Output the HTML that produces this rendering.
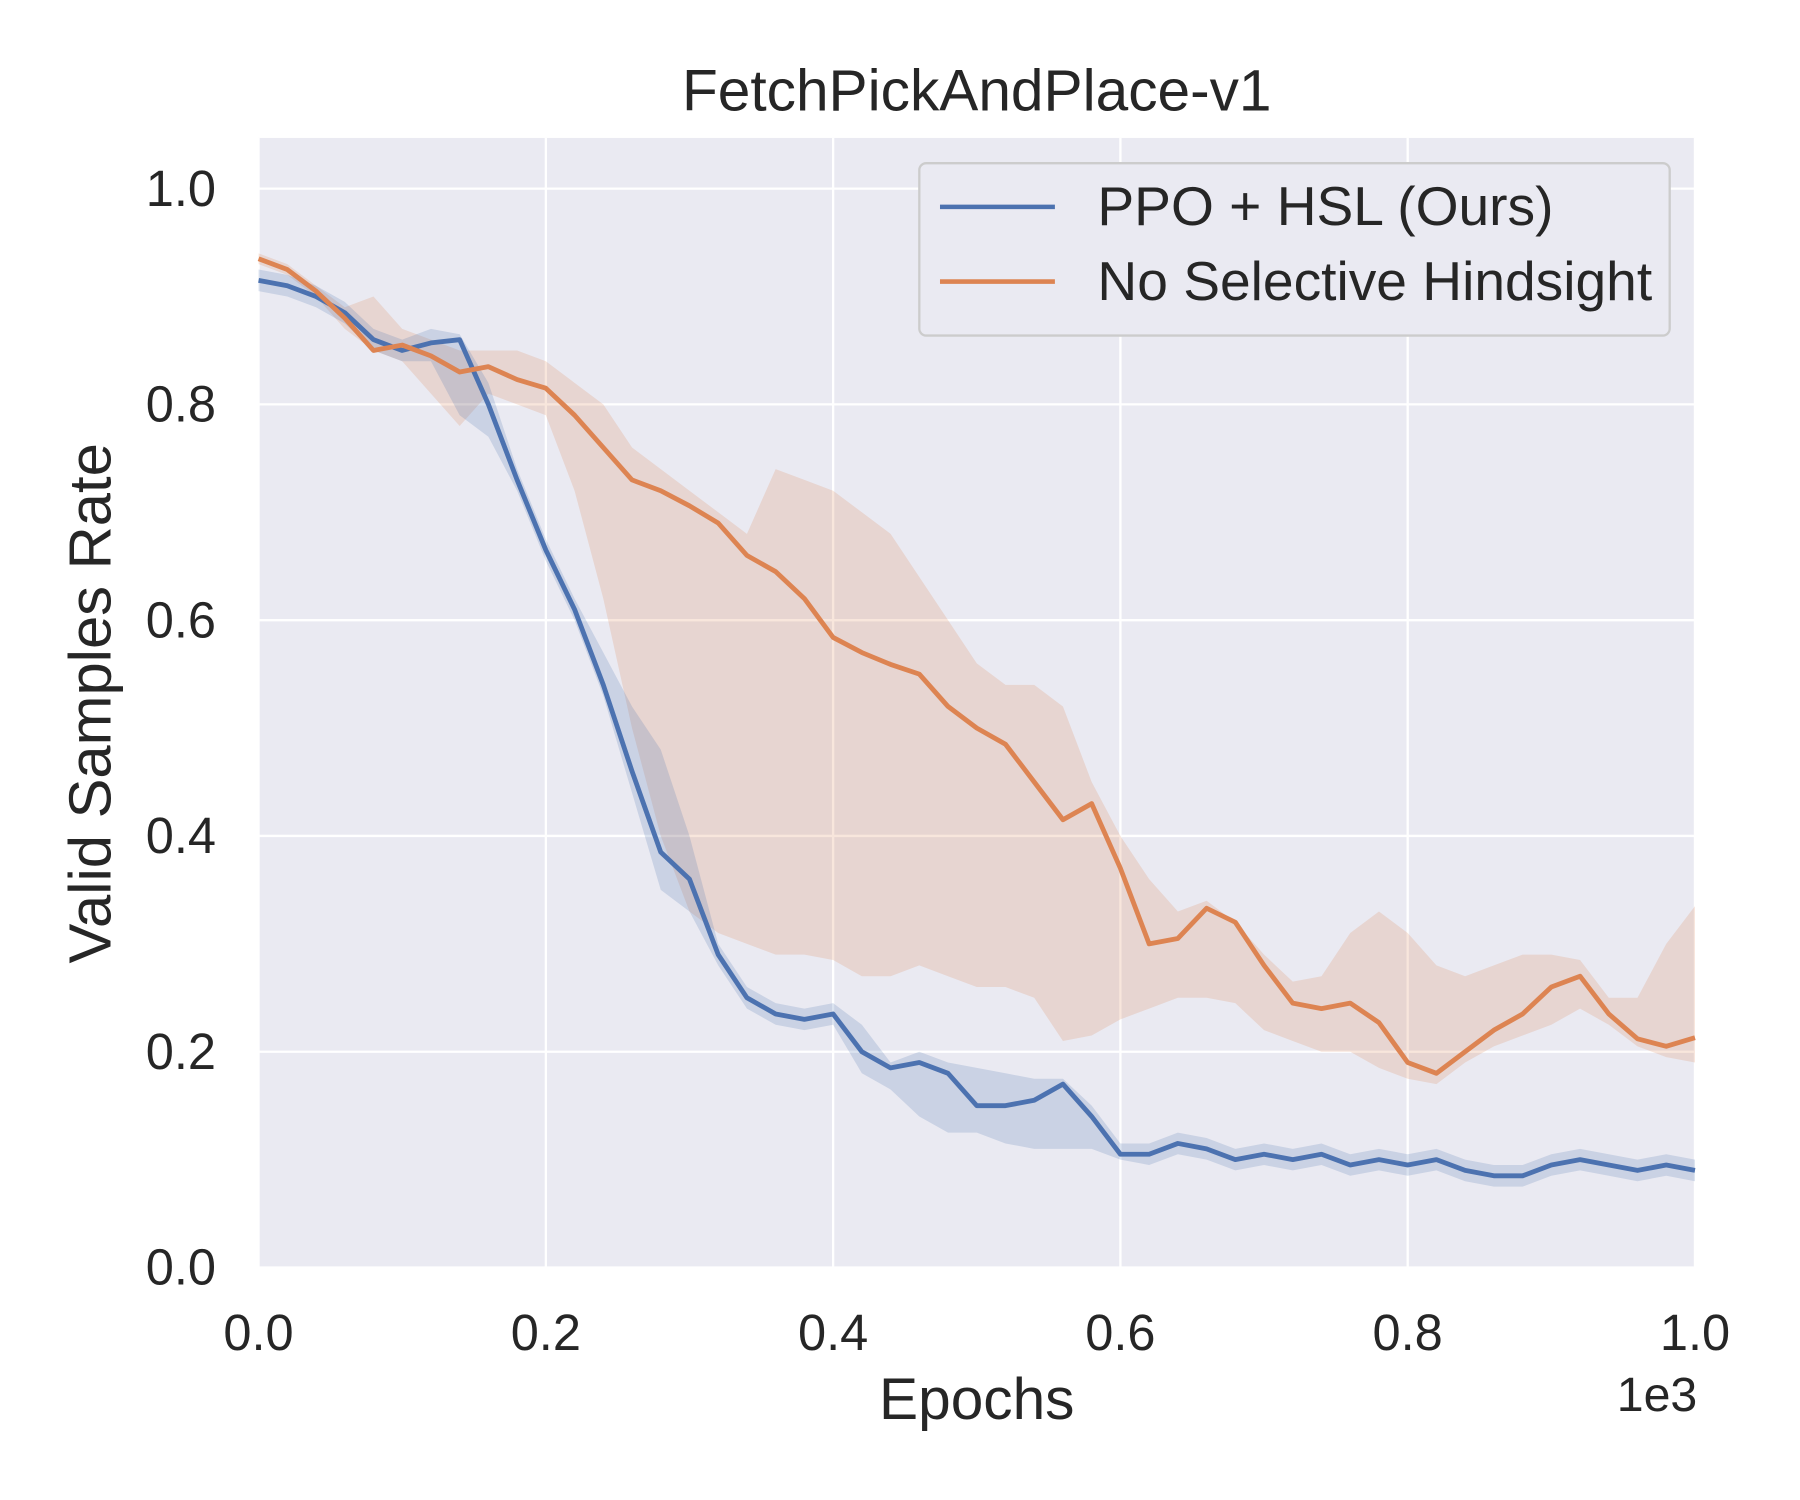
<!DOCTYPE html>
<html><head><meta charset="utf-8"><style>html,body{margin:0;padding:0;background:#fff}svg{display:block}text{font-family:"Liberation Sans","DejaVu Sans",sans-serif;fill:#262626}</style></head>
<body>
<svg id="chart" width="1800" height="1500" viewBox="0 0 1566.4 1305.3" xmlns="http://www.w3.org/2000/svg">
<rect x="225" y="120" width="1250" height="983" fill="#eaeaf2"/>
<g id="grid"></g>
<g id="bands"></g>
<g id="lines"></g>
<g id="ticks"></g>
<text x="850" y="96" font-size="51" text-anchor="middle">FetchPickAndPlace-v1</text>
<text x="850" y="1235" font-size="51" text-anchor="middle">Epochs</text>
<text x="1477" y="1228" font-size="42" text-anchor="end">1e3</text>
<text transform="translate(96,612) rotate(-90)" font-size="52" text-anchor="middle">Valid Samples Rate</text>
<g>
<rect x="800" y="142" width="653" height="150" rx="6" fill="#eaeaf2" stroke="#cccccc" stroke-width="2"/>
<line x1="818" y1="180" x2="918" y2="180" stroke="#4c72b0" stroke-width="4"/>
<text x="955" y="196" font-size="48">PPO + HSL (Ours)</text>
<line x1="818" y1="245" x2="918" y2="245" stroke="#dd8452" stroke-width="4"/>
<text x="955" y="261" font-size="48">No Selective Hindsight</text>
</g>
</svg>
<script>
const epochs = [0,20,40,60,80,100,120,140,160,180,200,220,240,260,280,300,320,340,360,380,400,420,440,460,480,500,520,540,560,580,600,620,640,660,680,700,720,740,760,780,800,820,840,860,880,900,920,940,960,980,1000];
const orangeMean = [.935,.925,.905,.88,.85,.855,.845,.83,.835,.823,.815,.79,.76,.73,.72,.706,.69,.66,.645,.62,.584,.57,.559,.55,.52,.50,.485,.45,.415,.43,.37,.30,.305,.333,.32,.28,.245,.24,.245,.227,.19,.18,.20,.22,.235,.26,.27,.235,.212,.205,.213];
const orangeLo = [.93,.92,.90,.87,.85,.84,.81,.78,.81,.80,.79,.72,.62,.50,.40,.33,.31,.30,.29,.29,.285,.27,.27,.28,.27,.26,.26,.25,.21,.215,.23,.24,.25,.25,.245,.22,.21,.20,.20,.185,.175,.17,.19,.205,.215,.225,.24,.225,.205,.195,.19];
const orangeHi = [.94,.93,.91,.89,.90,.87,.86,.85,.85,.85,.84,.82,.80,.76,.74,.72,.70,.68,.74,.73,.72,.70,.68,.64,.60,.56,.54,.54,.52,.45,.40,.36,.33,.34,.32,.29,.265,.27,.31,.33,.31,.28,.27,.28,.29,.29,.285,.25,.25,.30,.335];
const blueMean = [.915,.91,.90,.885,.86,.85,.857,.86,.80,.73,.665,.61,.54,.46,.385,.36,.29,.25,.235,.23,.235,.20,.185,.19,.18,.15,.15,.155,.17,.14,.105,.105,.115,.11,.10,.105,.10,.105,.095,.10,.095,.10,.09,.085,.085,.095,.10,.095,.09,.095,.09];
const blueLo = [.905,.90,.89,.875,.85,.84,.84,.79,.77,.72,.655,.60,.53,.44,.35,.33,.28,.24,.225,.22,.225,.18,.165,.14,.125,.125,.115,.11,.11,.11,.10,.095,.105,.10,.09,.095,.09,.095,.085,.09,.085,.09,.08,.075,.075,.085,.09,.085,.08,.085,.08];
const blueHi = [.925,.92,.91,.895,.87,.86,.87,.865,.82,.74,.675,.62,.57,.52,.48,.40,.30,.26,.245,.24,.245,.225,.19,.20,.19,.185,.18,.175,.175,.15,.115,.115,.125,.12,.11,.115,.11,.115,.105,.11,.105,.11,.10,.095,.095,.105,.11,.105,.10,.105,.10];
const xTicks = [0,200,400,600,800,1000];
const xTickLabels = ["0.0","0.2","0.4","0.6","0.8","1.0"];
const yTicks = [0,0.2,0.4,0.6,0.8,1.0];
const yTickLabels = ["0.0","0.2","0.4","0.6","0.8","1.0"];

const X0=225,X1=1475,Y0=1103,Y1=120,YMAX=1.047;
function xs(v){return X0+(v/1000)*(X1-X0);}
function ys(v){return Y0-(v/YMAX)*(Y0-Y1);}
const NS="http://www.w3.org/2000/svg";
function mk(tag,attrs,parent){const e=document.createElementNS(NS,tag);for(const k in attrs)e.setAttribute(k,attrs[k]);parent.appendChild(e);return e;}
const grid=document.getElementById('grid'),ticks=document.getElementById('ticks');
xTicks.forEach((t,i)=>{
  const l=mk('line',{x1:xs(t),x2:xs(t),y1:Y1,y2:Y0,stroke:'#fff','stroke-width':2},grid);
  
  
  const tx=mk('text',{x:xs(t),y:1175,'font-size':44,'text-anchor':'middle'},ticks);
  tx.textContent=xTickLabels[i];
  
  
});
yTicks.forEach((t,i)=>{
  const l=mk('line',{x1:X0,x2:X1,y1:ys(t),y2:ys(t),stroke:'#fff','stroke-width':2},grid);
  
  
  const tx=mk('text',{x:188,y:ys(t)+15,'font-size':44,'text-anchor':'end'},ticks);
  tx.textContent=yTickLabels[i];
  
  
});
function band(lo,hi,color,name){
  let d='M'+epochs.map((e,i)=>xs(e)+','+ys(hi[i])).join('L');
  d+='L'+epochs.slice().reverse().map((e,j)=>{const i=epochs.length-1-j;return xs(e)+','+ys(lo[i]);}).join('L')+'Z';
  const p=mk('path',{d:d,fill:color,'fill-opacity':0.2,stroke:'none'},document.getElementById('bands'));
  
  
}
function line(m,color,name){
  const d='M'+epochs.map((e,i)=>xs(e)+','+ys(m[i])).join('L');
  const p=mk('path',{d:d,fill:'none',stroke:color,'stroke-width':4.2,'stroke-linejoin':'round'},document.getElementById('lines'));
  
  
}
band(orangeLo,orangeHi,'#dd8452','band-no-selective-hindsight');
band(blueLo,blueHi,'#4c72b0','band-ppo-hsl');
line(blueMean,'#4c72b0','line-ppo-hsl');
line(orangeMean,'#dd8452','line-no-selective-hindsight');
</script>
</body></html>
